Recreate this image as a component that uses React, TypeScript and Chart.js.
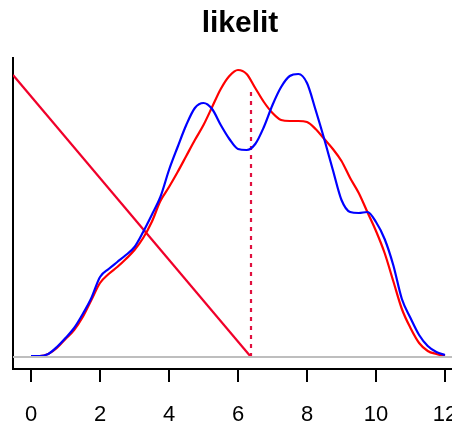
import React, { useEffect, useRef } from "react";
import { Chart, registerables } from "chart.js";

Chart.register(...registerables);

// Evaluation grid (rating scale) shared by both density curves
const xGrid = [
  0, 0.25, 0.5, 0.75, 1, 1.25, 1.5, 1.75, 2, 2.25, 2.5, 2.75, 3, 3.25, 3.5, 3.75,
  4, 4.25, 4.5, 4.75, 5, 5.25, 5.5, 5.75, 6, 6.25, 6.5, 6.75, 7, 7.25, 7.5, 7.75,
  8, 8.25, 8.5, 8.75, 9, 9.25, 9.5, 9.75, 10, 10.25, 10.5, 10.75, 11, 11.25, 11.5, 11.75, 12,
];

// Density estimate drawn in blue
const blueDensity = [
  0.001, 0.001, 0.003, 0.010, 0.019, 0.029, 0.043, 0.059, 0.080, 0.088, 0.095, 0.102,
  0.110, 0.125, 0.142, 0.160, 0.187, 0.210, 0.232, 0.249, 0.254, 0.248, 0.232, 0.218,
  0.208, 0.207, 0.213, 0.230, 0.252, 0.270, 0.281, 0.283, 0.274, 0.247, 0.218, 0.187,
  0.157, 0.145, 0.144, 0.145, 0.135, 0.118, 0.092, 0.058, 0.039, 0.022, 0.011, 0.005, 0.002,
];

// Density estimate drawn in red
const redDensity = [
  0.001, 0.001, 0.003, 0.009, 0.018, 0.027, 0.040, 0.057, 0.074, 0.083, 0.090, 0.098,
  0.107, 0.119, 0.135, 0.156, 0.170, 0.185, 0.201, 0.217, 0.232, 0.250, 0.268, 0.281,
  0.287, 0.283, 0.269, 0.255, 0.244, 0.237, 0.236, 0.236, 0.235, 0.228, 0.218, 0.208,
  0.196, 0.179, 0.164, 0.145, 0.126, 0.104, 0.076, 0.048, 0.029, 0.014, 0.006, 0.003, 0.001,
];

// Straight reference line: from the left edge of the plot down to the marker
const diagonalX = [-0.522, 6.377];
const diagonalY = [0.282, 0];

// Dotted marker at the chosen point
const markerX = [6.377, 6.377];
const markerY = [0, 0.27];

// Horizontal zero line
const zeroLineX = [-0.522, 12.64];
const zeroLineY = [0, 0];

const tickValues = [0, 2, 4, 6, 8, 10, 12];

const xMin = -0.522;
const xMax = 12.638;
const yMin = -0.012;
const yMax = 0.299;

const FONT = "'Liberation Sans', Arial, Helvetica, sans-serif";

const pairs = (xs: number[], ys: number[]) => xs.map((x, i) => ({ x, y: ys[i] }));

const titlePlugin = {
  id: "plotTitle",
  afterDraw(chart: any) {
    const { ctx, chartArea } = chart;
    ctx.save();
    ctx.font = `bold 30px ${FONT}`;
    ctx.fillStyle = "#000";
    ctx.textAlign = "center";
    ctx.textBaseline = "alphabetic";
    ctx.fillText("likelit", (chartArea.left + chartArea.right) / 2, 32);
    ctx.restore();
  },
};

export default function App() {
  const canvasRef = useRef<HTMLCanvasElement | null>(null);

  useEffect(() => {
    const canvas = canvasRef.current;
    if (!canvas) return;
    const chart = new Chart(canvas, {
      type: "line",
      data: {
        datasets: [
          {
            data: pairs(zeroLineX, zeroLineY),
            borderColor: "#BEBEBE",
            borderWidth: 2,
            pointRadius: 0,
          },
          {
            data: pairs(xGrid, blueDensity),
            borderColor: "#0000FF",
            borderWidth: 2.2,
            pointRadius: 0,
            cubicInterpolationMode: "monotone",
          },
          {
            data: pairs(xGrid, redDensity),
            borderColor: "#FF0000",
            borderWidth: 2.2,
            pointRadius: 0,
            cubicInterpolationMode: "monotone",
          },
          {
            data: pairs(diagonalX, diagonalY),
            borderColor: "#F0002A",
            borderWidth: 2.2,
            pointRadius: 0,
          },
          {
            data: pairs(markerX, markerY),
            borderColor: "#E0103F",
            borderWidth: 2.2,
            borderDash: [4, 5],
            pointRadius: 0,
          },
        ],
      },
      options: {
        responsive: false,
        animation: false,
        devicePixelRatio: 1,
        layout: { padding: { left: 13, right: 13, top: 58, bottom: 0 } },
        plugins: {
          legend: { display: false },
          tooltip: { enabled: false },
          title: { display: false },
        },
        scales: {
          x: {
            type: "linear",
            min: xMin,
            max: xMax,
            afterBuildTicks: (s: any) => {
              s.ticks = tickValues.map((v) => ({ value: v }));
            },
            afterFit: (s: any) => {
              s.height = 55;
            },
            grid: {
              display: true,
              drawOnChartArea: false,
              drawTicks: true,
              tickLength: 13,
              color: "#000",
              lineWidth: 2,
            },
            border: { display: true, color: "#000", width: 2 },
            ticks: {
              color: "#000",
              padding: 20,
              maxRotation: 0,
              autoSkip: false,
              font: { family: FONT, size: 22 },
            },
          },
          y: {
            type: "linear",
            min: yMin,
            max: yMax,
            afterFit: (s: any) => {
              s.width = 0;
            },
            grid: { display: false, drawTicks: false },
            border: { display: true, color: "#000", width: 2 },
            ticks: { display: false },
          },
        },
      },
      plugins: [titlePlugin],
    } as any);
    return () => chart.destroy();
  }, []);

  return (
    <div
      style={{
        position: "fixed",
        left: 0,
        top: 0,
        width: 452,
        height: 424,
        overflow: "hidden",
        background: "#fff",
      }}
    >
      <canvas ref={canvasRef} width={480} height={424} style={{ display: "block" }} />
    </div>
  );
}
